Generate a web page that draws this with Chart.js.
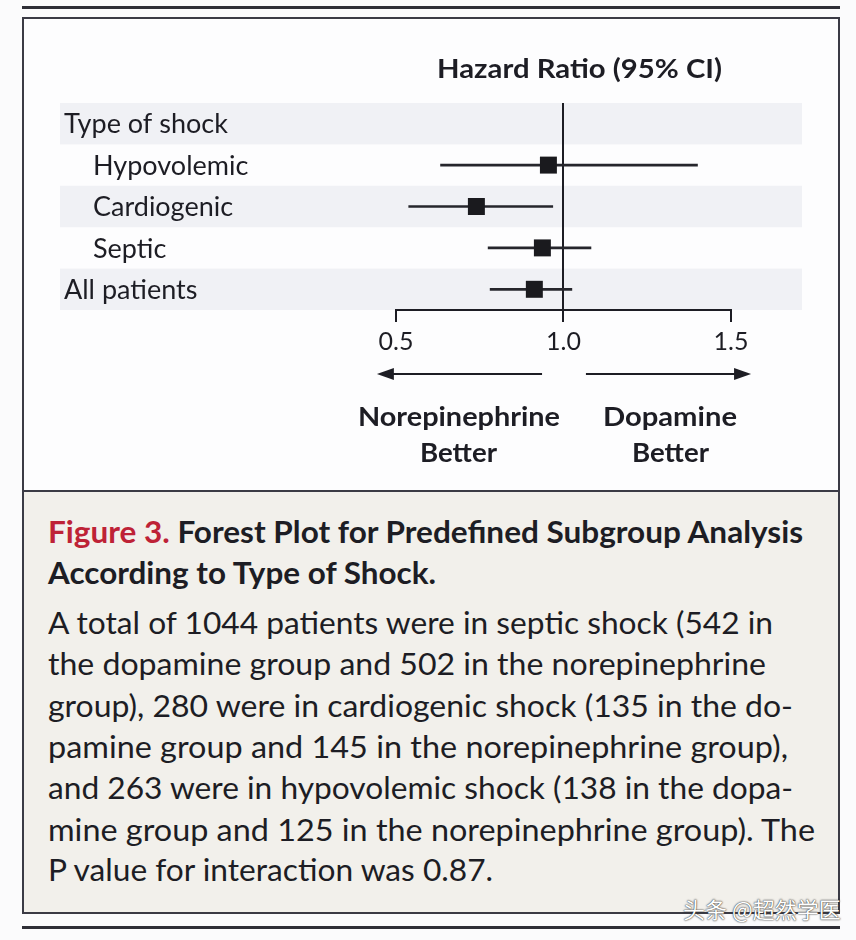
<!DOCTYPE html>
<html><head><meta charset="utf-8">
<script src="https://cdn.jsdelivr.net/npm/chart.js@4/dist/chart.umd.min.js"></script>
<style>
html,body{margin:0;padding:0;background:#fbfbfc;}
body{width:856px;height:940px;position:relative;overflow:hidden;font-family:Lato,"Noto Sans",sans-serif;color:#1d1d24;}
.rule{position:absolute;left:22px;width:818px;height:3px;background:#2f2f37;}
#box{position:absolute;left:22px;top:17px;width:818px;height:897px;box-sizing:border-box;border:2px solid #3b3b45;background:#fdfdfe;}
#cap{position:absolute;left:22px;top:490px;width:818px;height:424px;box-sizing:border-box;border:2px solid #3b3b45;background:#f2f0eb;}
#chart{position:absolute;left:24px;top:19px;}
.t{position:absolute;white-space:nowrap;transform-origin:0 50%;}
.b{font-weight:700;}
.red{color:#be2236;}
#wm{position:absolute;left:683px;top:894px;font-family:"Noto Sans CJK SC",sans-serif;font-size:22px;line-height:28px;color:#fff;text-shadow:0 0 2px rgba(40,40,40,0.9),0 0 1px rgba(40,40,40,0.9);white-space:nowrap;}
</style></head>
<body>
<div class="rule" style="top:6px"></div>
<div id="box"></div>
<div id="cap"></div>
<canvas id="chart" width="814" height="472"></canvas>
<div class="rule" style="top:926px"></div>

<div class="t b" data-w="285" style="left:437px;top:52px;font-size:27px;line-height:32px;">Hazard Ratio (95% CI)</div>
<div class="t b" data-w="202" style="left:358px;top:400px;font-size:26px;line-height:32px;">Norepinephrine</div>
<div class="t b" data-w="77" style="left:420px;top:436px;font-size:26px;line-height:32px;">Better</div>
<div class="t b" data-w="134" style="left:603px;top:400px;font-size:26px;line-height:32px;">Dopamine</div>
<div class="t b" data-w="77" style="left:632px;top:436px;font-size:26px;line-height:32px;">Better</div>

<div class="t b" data-w="755" style="left:48px;top:514px;font-size:30px;line-height:34px;"><span class="red">Figure 3.</span> Forest Plot for Predefined Subgroup Analysis</div>
<div class="t b" data-w="388" style="left:48px;top:555px;font-size:30px;line-height:34px;">According to Type of Shock.</div>

<div class="t" data-w="725" style="left:48px;top:605px;font-size:30px;line-height:34px;">A total of 1044 patients were in septic shock (542 in</div>
<div class="t" data-w="718" style="left:48px;top:646px;font-size:30px;line-height:34px;">the dopamine group and 502 in the norepinephrine</div>
<div class="t" data-w="745" style="left:48px;top:688px;font-size:30px;line-height:34px;">group), 280 were in cardiogenic shock (135 in the do-</div>
<div class="t" data-w="740" style="left:48px;top:729px;font-size:30px;line-height:34px;">pamine group and 145 in the norepinephrine group),</div>
<div class="t" data-w="745" style="left:48px;top:770px;font-size:30px;line-height:34px;">and 263 were in hypovolemic shock (138 in the dopa-</div>
<div class="t" data-w="767" style="left:48px;top:812px;font-size:30px;line-height:34px;">mine group and 125 in the norepinephrine group). The</div>
<div class="t" data-w="445" style="left:48px;top:852px;font-size:30px;line-height:34px;">P value for interaction was 0.87.</div>

<div id="wm">头条 @超然学医</div>

<script>
// ---- data ----
const categories = ["Type of shock", "Hypovolemic", "Cardiogenic", "Septic", "All patients"];
const indentLevel = [0, 1, 1, 1, 0];
const shadedRow = [true, false, true, false, true];
const hazardRatio = [null, 0.955, 0.740, 0.937, 0.913];
const ciLower = [null, 0.633, 0.538, 0.775, 0.781];
const ciUpper = [null, 1.400, 0.968, 1.082, 1.025];
const tickValues = [0.5, 1.0, 1.5];
const axisSpan = [0.5, 1.5];
const arrowNorepinephrine = [0.936, 0.443]; // tail, tip
const arrowDopamine = [1.067, 1.560];       // tail, tip

// ---- fit text widths ----
document.querySelectorAll('.t[data-w]').forEach(el => {
  const w = el.getBoundingClientRect().width;
  const target = +el.dataset.w;
  if (w > 0) el.style.transform = 'scaleX(' + (target / w) + ')';
});

const INK = '#1d1d24';

function drawArrow(ctx, x0, x1, y) {
  const dir = Math.sign(x1 - x0);
  const head = 17, half = 6;
  ctx.beginPath();
  ctx.moveTo(x0, y);
  ctx.lineTo(x1 - dir * head + dir * 2, y);
  ctx.stroke();
  ctx.beginPath();
  ctx.moveTo(x1, y);
  ctx.lineTo(x1 - dir * head, y - half);
  ctx.lineTo(x1 - dir * head, y + half);
  ctx.closePath();
  ctx.fill();
}

const forestPlugin = {
  id: 'forest',
  beforeDraw(chart) {
    const {ctx, chartArea, scales} = chart;
    const ys = scales.y;
    const rowH = Math.abs(ys.getPixelForValue(1) - ys.getPixelForValue(0));
    ctx.save();
    ctx.fillStyle = '#f0f1f5';
    categories.forEach((c, i) => {
      if (!shadedRow[i]) return;
      const cy = ys.getPixelForValue(i);
      ctx.fillRect(chartArea.left, cy - rowH / 2, chartArea.right - chartArea.left, rowH);
    });
    ctx.restore();
  },
  afterDraw(chart) {
    const {ctx, chartArea, scales} = chart;
    const xs = scales.x, ys = scales.y;
    ctx.save();
    ctx.strokeStyle = INK; ctx.fillStyle = INK; ctx.lineWidth = 2;
    ctx.beginPath();
    ctx.moveTo(xs.getPixelForValue(axisSpan[0]) - 1, chartArea.bottom);
    ctx.lineTo(xs.getPixelForValue(axisSpan[1]) + 1, chartArea.bottom);
    ctx.stroke();
    const ay = chartArea.bottom + 64;
    drawArrow(ctx, xs.getPixelForValue(arrowNorepinephrine[0]), xs.getPixelForValue(arrowNorepinephrine[1]), ay);
    drawArrow(ctx, xs.getPixelForValue(arrowDopamine[0]), xs.getPixelForValue(arrowDopamine[1]), ay);
    ctx.font = '27px Lato, "Noto Sans", sans-serif';
    ctx.textBaseline = 'middle';
    ctx.textAlign = 'left';
    categories.forEach((c, i) => {
      ctx.fillText(c, chartArea.left + 4 + indentLevel[i] * 29, ys.getPixelForValue(i) + 1);
    });
    ctx.restore();
  }
};

new Chart(document.getElementById('chart'), {
  type: 'bar',
  data: {
    labels: categories,
    datasets: [
      {
        type: 'scatter',
        data: categories.map((c, i) => hazardRatio[i] == null ? null : {x: hazardRatio[i], y: c}).filter(Boolean),
        pointStyle: 'rect',
        pointRadius: 12,
        backgroundColor: '#1a1a1e',
        borderColor: '#1a1a1e',
        borderWidth: 0
      },
      {
        type: 'bar',
        data: categories.map((c, i) => ciLower[i] == null ? null : [ciLower[i], ciUpper[i]]),
        backgroundColor: '#26262c',
        barThickness: 2,
        borderWidth: 0,
        grouped: false
      }
    ]
  },
  options: {
    indexAxis: 'y',
    responsive: false,
    animation: false,
    events: [],
    layout: {padding: {left: 36, right: 36, top: 84, bottom: 0}},
    plugins: {legend: {display: false}, tooltip: {enabled: false}, title: {display: false}},
    scales: {
      y: {type: 'category', labels: categories, offset: true, display: false},
      x: {
        type: 'linear',
        min: -0.503,
        max: 1.712,
        afterBuildTicks(scale) { scale.ticks = tickValues.map(v => ({value: v})); },
        afterFit(scale) { scale.height = 181; },
        border: {display: false},
        grid: {
          drawOnChartArea: true,
          drawTicks: true,
          tickLength: 12,
          lineWidth: 2,
          color: ctx => (ctx.tick && ctx.tick.value === 1) ? INK : 'rgba(0,0,0,0)',
          tickColor: INK
        },
        ticks: {
          padding: 5,
          color: INK,
          font: {family: 'Lato, "Noto Sans", sans-serif', size: 25},
          callback: v => Number(v).toFixed(1),
          autoSkip: false,
          maxRotation: 0
        }
      }
    }
  },
  plugins: [forestPlugin]
});
</script>
</body></html>
